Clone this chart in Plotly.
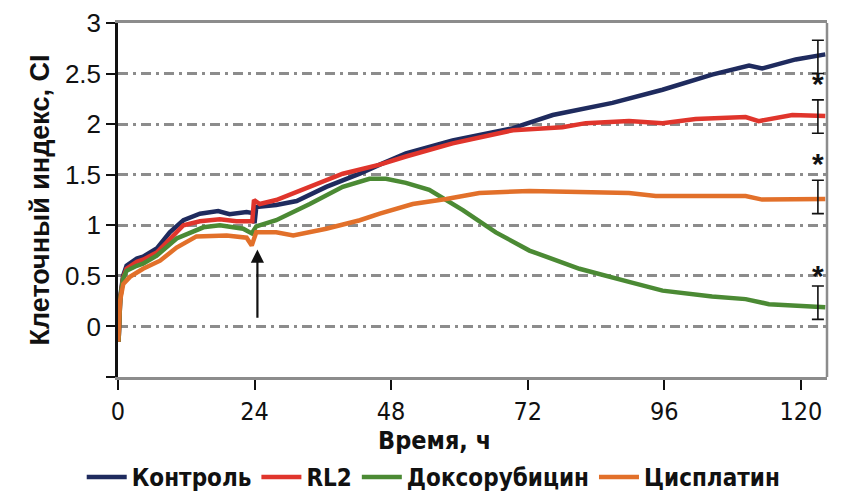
import plotly.graph_objects as go

# ---- data (hours, cell index) ----
ctrl_t = [0.1, 0.4, 0.9, 1.5, 3.3, 4.4, 6.8, 9.1, 11.5, 14.4, 17.6, 19.6, 22.6, 23.7, 24.0, 24.3,
          27.8, 31.4, 36.6, 42.5, 46, 50.6, 58.8, 69.4, 76.4, 86.9, 95.7, 104.4, 110.9, 113.2, 119.1, 124.3]
ctrl_v = [-0.15, 0.3, 0.5, 0.6, 0.67, 0.69, 0.77, 0.93, 1.05, 1.115, 1.14, 1.11, 1.13, 1.12, 1.02, 1.18,
          1.2, 1.24, 1.38, 1.51, 1.6, 1.71, 1.84, 1.96, 2.09, 2.21, 2.34, 2.49, 2.58, 2.55, 2.64, 2.69]

rl2_t = [0.1, 0.4, 0.9, 1.5, 3.3, 4.4, 6.8, 9.1, 11.5, 14.4, 17.9, 20.8, 22.6, 23.6, 23.9, 24.9,
         27.8, 33.7, 39.5, 46, 50.6, 58.8, 69.4, 78.1, 82.2, 89.8, 95.7, 101.5, 110.3, 112.6, 118.5, 124.3]
rl2_v = [-0.15, 0.28, 0.48, 0.57, 0.64, 0.66, 0.73, 0.87, 1.0, 1.04, 1.06, 1.04, 1.04, 1.04, 1.25, 1.21,
         1.25, 1.38, 1.51, 1.6, 1.68, 1.81, 1.94, 1.97, 2.01, 2.03, 2.01, 2.05, 2.07, 2.03, 2.09, 2.08]

dox_t = [0.1, 0.4, 0.9, 1.5, 3.3, 4.4, 6.8, 10.3, 15, 17.9, 22, 23.5, 24.3, 27.8, 33.7, 39.5, 44.2,
         47.1, 50.6, 54.7, 60.6, 66.4, 72.3, 81.1, 89.8, 95.7, 104.4, 110.3, 114.4, 120.2, 124.3]
dox_v = [-0.15, 0.28, 0.47, 0.55, 0.6, 0.62, 0.7, 0.87, 0.98, 1.0, 0.966, 0.92, 0.99, 1.05, 1.21, 1.38, 1.46,
         1.46, 1.42, 1.35, 1.15, 0.93, 0.75, 0.57, 0.44, 0.354, 0.295, 0.27, 0.22, 0.205, 0.19]

cis_t = [0.05, 0.35, 0.93, 2.1, 4.4, 7.4, 10.3, 13.8, 19.1, 22.6, 23.5, 24.3, 27.8, 30.8, 36.6, 42.5,
         46, 51.8, 57.7, 63.5, 72.3, 81.1, 89.8, 94.5, 110.3, 113.2, 124.3]
cis_v = [-0.15, 0.25, 0.42, 0.49, 0.57, 0.65, 0.78, 0.89, 0.9, 0.877, 0.8, 0.93, 0.93, 0.9, 0.966, 1.05,
         1.115, 1.21, 1.26, 1.32, 1.34, 1.33, 1.32, 1.29, 1.29, 1.254, 1.26]

series_names = ["Контроль", "RL2", "Доксорубицин", "Цисплатин"]

# error bars at end of experiment
err_t = [123, 123, 123, 123]
err_center = [2.665, 2.075, 0.235, 1.28]
err_half = [0.165, 0.165, 0.165, 0.165]

# significance stars
star_t = [123, 123, 123]
star_v = [2.37, 1.58, 0.47]

x_ticks = [0, 24, 48, 72, 96, 120]
y_ticks = [-0.5, 0, 0.5, 1, 1.5, 2, 2.5, 3]
y_ticktext = ["", "0", "0.5", "1", "1.5", "2", "2.5", "3"]

arrow_t = 24.5
arrow_from = 0.07
arrow_to = 0.76

colors = ["#1f2b5e", "#e0352c", "#4b8a34", "#e2702a"]
NARROW = "Liberation Sans Narrow, DejaVu Sans Condensed, Roboto Condensed, Liberation Sans, sans-serif"

fig = go.Figure()
for t, v, name, c in zip([ctrl_t, rl2_t, dox_t, cis_t], [ctrl_v, rl2_v, dox_v, cis_v], series_names, colors):
    fig.add_trace(go.Scatter(x=t, y=v, mode="lines", name=name,
                             line=dict(color=c, width=4.5)))

fig.add_trace(go.Scatter(x=err_t, y=err_center, mode="markers", showlegend=False,
                         marker=dict(size=1, color="rgba(0,0,0,0)"),
                         error_y=dict(type="data", array=err_half, color="#111", thickness=1.6, width=6)))

fig.add_trace(go.Scatter(x=star_t, y=star_v, mode="text", text=["<b>*</b>"] * len(star_t), showlegend=False,
                         textfont=dict(family="Liberation Sans", size=30, color="#111")))

fig.add_annotation(x=arrow_t, y=arrow_to, ax=arrow_t, ay=arrow_from, xref="x", yref="y",
                   axref="x", ayref="y", showarrow=True, arrowhead=2, arrowsize=1.2,
                   arrowwidth=2.2, arrowcolor="#111", text="")

# x-axis title (placed left of centre like the reference)
fig.add_annotation(text="<b>Время, ч</b>", xref="paper", yref="paper", x=0.446, y=-0.178,
                   xanchor="center", yanchor="middle", showarrow=False,
                   font=dict(family=NARROW, size=25, color="#111"))

grid = "#8c8c8c"
# page body has an 8px margin, so the figure is shrunk / shifted to compensate
fig.update_layout(
    width=843, height=489,
    margin=dict(l=110, r=24, t=15, b=120),
    paper_bgcolor="white", plot_bgcolor="white",
    font=dict(family="Liberation Sans", color="#111"),
    showlegend=True,
    legend=dict(orientation="h", xref="container", yref="container", x=0.505, y=0.04,
                xanchor="center", yanchor="middle",
                font=dict(family=NARROW, size=24, color="#111", weight="bold"),
                itemwidth=40, tracegroupgap=0),
    xaxis=dict(range=[0, 124.6], tickvals=x_ticks, ticks="outside", ticklen=10, tickwidth=1.5,
               tickcolor="#111", showline=True, linecolor=grid, linewidth=2.5, mirror=True,
               showgrid=False, zeroline=False, automargin=False,
               tickfont=dict(family=NARROW, size=25, color="#111")),
    yaxis=dict(range=[-0.5, 3], tickvals=y_ticks, ticktext=y_ticktext, ticks="outside", ticklen=9,
               tickwidth=2, tickcolor="#111", showline=True, linecolor="#111", linewidth=2.5,
               showgrid=True, gridcolor=grid, gridwidth=2.5, griddash="10px,5px,3px,5px",
               zeroline=False, automargin=False,
               tickfont=dict(family="Liberation Sans", size=26, color="#111"),
               title=dict(text="Клеточный индекс, CI", standoff=8,
                          font=dict(family="Liberation Sans", size=27, weight="bold", color="#111"))),
)

fig.add_shape(type="line", xref="paper", yref="paper", x0=1, x1=1, y0=0, y1=1,
              line=dict(color=grid, width=2.5))

fig.write_html("out.html")
